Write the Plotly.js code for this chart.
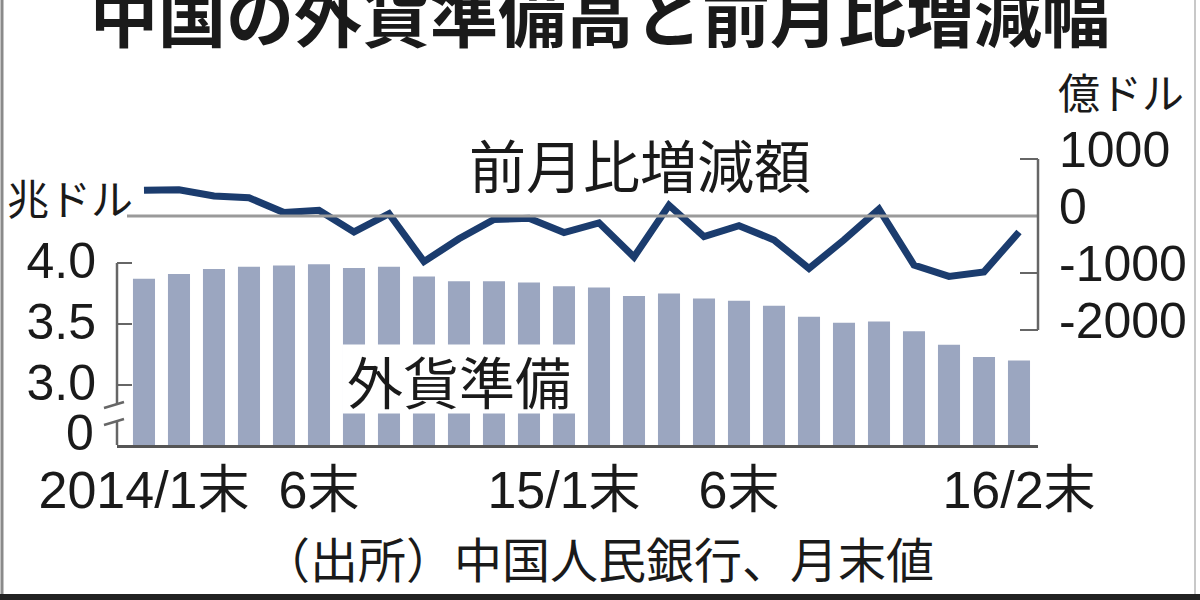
<!DOCTYPE html>
<html>
<head>
<meta charset="utf-8">
<script src="https://cdn.plot.ly/plotly-3.0.1.min.js"></script>
<style>
  html, body { margin: 0; padding: 0; background: #fff; }
  #chart { width: 1200px; height: 600px; }
</style>
</head>
<body>
<div id="chart"></div>
<script>
// 月末 (2014/1 - 2016/2)
var months = ['2014/1', '2014/2', '2014/3', '2014/4', '2014/5', '2014/6',
              '2014/7', '2014/8', '2014/9', '2014/10', '2014/11', '2014/12',
              '2015/1', '2015/2', '2015/3', '2015/4', '2015/5', '2015/6',
              '2015/7', '2015/8', '2015/9', '2015/10', '2015/11', '2015/12',
              '2016/1', '2016/2'];

// 外貨準備 (兆ドル)
var reserves = [3.87, 3.91, 3.95, 3.97, 3.98, 3.99, 3.96, 3.97, 3.89, 3.85, 3.85, 3.84,
                3.81, 3.80, 3.73, 3.75, 3.71, 3.69, 3.65, 3.56, 3.51, 3.52, 3.44, 3.33,
                3.23, 3.20];

// 前月比増減額 (億ドル)
var change = [450, 460, 350, 320, 60, 100, -280, 40, -800, -400, -60, -40,
              -290, -120, -720, 190, -360, -170, -420, -920, -420, 120, -860, -1060,
              -980, -280];

var xTickVals = ['2014/1', '2014/6', '2015/1', '2015/6', '2016/2'];
var xTickText = ['2014/1末', '6末', '15/1末', '6末', '16/2末'];
var leftTicks = [3.0, 3.5, 4.0];
var leftTickText = ['3.0', '3.5', '4.0'];
var rightTicks = [1000, 0, -1000, -2000];
var rightTickText = ['1000', '0', '-1000', '-2000'];

// plot area in pixels
var L = 117, R = 1038, T = 150, B = 445;
function px(x) { return (x - L) / (R - L); }
function py(y) { return (B - y) / (B - T); }

var NUM = 'Liberation Sans, Noto Sans CJK JP';
var JP = 'Noto Sans CJK JP';
var INK = '#1a1a1a';
var AXIS = '#666666';

var bars = {
  x: months,
  y: reserves,
  type: 'bar',
  marker: {color: '#9ba6c0'},
  hoverinfo: 'skip'
};

var line = {
  x: months,
  y: change,
  yaxis: 'y2',
  type: 'scatter',
  mode: 'lines',
  line: {color: '#1b3c6e', width: 7},
  hoverinfo: 'skip'
};

function label(text, x, y, size, family) {
  return {text: text, xref: 'paper', yref: 'paper', x: px(x), y: py(y),
          xanchor: 'center', yanchor: 'middle', showarrow: false,
          font: {family: family || JP, size: size, color: INK}};
}

var zeroLabel = label('0', 96, 433, 50, NUM);
zeroLabel.xanchor = 'right';

var layout = {
  width: 1200,
  height: 600,
  paper_bgcolor: '#fff',
  plot_bgcolor: 'rgba(0,0,0,0)',
  showlegend: false,
  bargap: 0.37,
  margin: {l: L, r: 1200 - R, t: T, b: 600 - B},
  title: {
    text: '中国の外貨準備高と前月比増減幅',
    font: {family: JP, size: 68, color: INK, weight: 700},
    x: 0.5,
    xref: 'container',
    xanchor: 'center',
    y: 1 - 18 / 600,
    yanchor: 'middle'
  },
  xaxis: {
    type: 'category',
    range: [-0.771, 25.543],
    tickmode: 'array',
    tickvals: xTickVals,
    ticktext: xTickText,
    tickangle: 0,
    ticks: '',
    showline: true,
    linecolor: '#555',
    linewidth: 3,
    showgrid: false,
    zeroline: false,
    ticklabelstandoff: -2,
    tickfont: {family: NUM, size: 52, color: INK}
  },
  yaxis: {
    range: [3.0 - (B - 385) / 122, 4.0 + (263 - T) / 122],
    tickmode: 'array',
    tickvals: leftTicks,
    ticktext: leftTickText,
    ticks: 'inside',
    ticklen: 15,
    tickwidth: 2.5,
    tickcolor: AXIS,
    showline: false,
    showgrid: false,
    zeroline: false,
    ticklabelstandoff: 20,
    ticklabelshift: -3,
    tickfont: {family: NUM, size: 50, color: INK}
  },
  yaxis2: {
    overlaying: 'y',
    side: 'right',
    range: [-(B - 216) / 57 * 1000, (216 - T) / 57 * 1000],
    tickmode: 'array',
    tickvals: rightTicks,
    ticktext: rightTickText,
    ticks: 'inside',
    ticklen: 18,
    tickwidth: 2.5,
    tickcolor: AXIS,
    showline: false,
    showgrid: false,
    zeroline: false,
    ticklabelstandoff: 20,
    ticklabelshift: -10,
    tickfont: {family: NUM, size: 50, color: INK}
  },
  shapes: [
    // 0 line of the change axis
    {type: 'line', xref: 'paper', yref: 'y2', x0: px(127), x1: 1, y0: 0, y1: 0,
     line: {color: '#9a9a9a', width: 3}},
    // right axis
    {type: 'line', xref: 'paper', yref: 'y2', x0: 1, x1: 1, y0: -2000, y1: 1000,
     line: {color: AXIS, width: 2.5}},
    // left axis with break
    {type: 'line', xref: 'paper', yref: 'paper', x0: 0, x1: 0, y0: py(263), y1: py(404),
     line: {color: AXIS, width: 2.5}},
    {type: 'line', xref: 'paper', yref: 'paper', x0: 0, x1: 0, y0: py(421), y1: py(445),
     line: {color: AXIS, width: 2.5}},
    {type: 'line', xref: 'paper', yref: 'paper', x0: px(104), x1: px(124), y0: py(408), y1: py(402),
     line: {color: AXIS, width: 2.5}},
    {type: 'line', xref: 'paper', yref: 'paper', x0: px(104), x1: px(124), y0: py(425), y1: py(419),
     line: {color: AXIS, width: 2.5}},
    // frame
    {type: 'line', xref: 'paper', yref: 'paper', x0: px(2), x1: px(2), y0: py(0), y1: py(600),
     line: {color: '#8a8a8a', width: 3}},
    {type: 'line', xref: 'paper', yref: 'paper', x0: px(1195), x1: px(1195), y0: py(0), y1: py(600),
     line: {color: '#c8c8c8', width: 2}},
    {type: 'line', xref: 'paper', yref: 'paper', x0: px(0), x1: px(1200), y0: py(597), y1: py(597),
     line: {color: '#222', width: 6}}
  ],
  annotations: [
    {text: '外貨準備', xref: 'x', yref: 'y', x: months[9], y: 4.0 - (379 - 263) / 122,
     xanchor: 'center', yanchor: 'middle',
     showarrow: false, bgcolor: '#fff', width: 232, height: 68, borderpad: 0,
     font: {family: JP, size: 56, color: INK}},
    label('前月比増減額', 640, 163, 57),
    label('兆ドル', 70, 196, 42),
    label('億ドル', 1121, 90, 42),
    zeroLabel,
    label('（出所）中国人民銀行、月末値', 598, 557, 48)
  ]
};

Plotly.newPlot('chart', [bars, line], layout, {staticPlot: true});
</script>
</body>
</html>
